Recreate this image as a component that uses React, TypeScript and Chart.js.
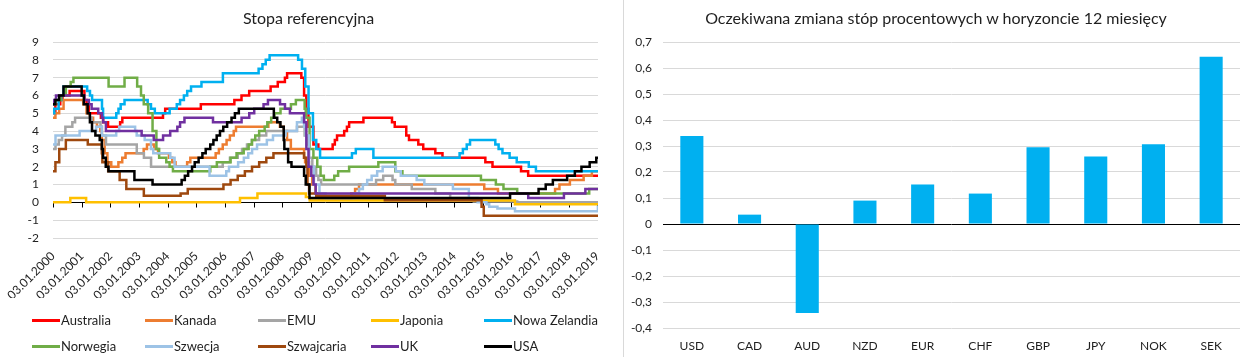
import React, { useEffect, useRef } from 'react';
import { Chart, registerables } from 'chart.js';

Chart.register(...registerables);

type Pt = [string, number];

// ---------------- Left chart data (policy rate change points) ----------------
const australia: Pt[] = [
  ['2000-01-03', 5.0], ['2000-02-02', 5.5], ['2000-04-05', 5.75], ['2000-05-03', 6.0], ['2000-08-02', 6.25],
  ['2001-02-07', 5.75], ['2001-03-07', 5.5], ['2001-04-04', 5.0], ['2001-09-05', 4.75], ['2001-10-03', 4.5], ['2001-12-05', 4.25],
  ['2002-05-08', 4.5], ['2002-06-05', 4.75], ['2003-11-05', 5.0], ['2003-12-03', 5.25], ['2005-03-02', 5.5],
  ['2006-05-03', 5.75], ['2006-08-02', 6.0], ['2006-11-08', 6.25], ['2007-08-08', 6.5], ['2007-11-07', 6.75],
  ['2008-02-06', 7.0], ['2008-03-05', 7.25], ['2008-09-03', 7.0], ['2008-10-08', 6.0], ['2008-11-05', 5.25], ['2008-12-03', 4.25],
  ['2009-02-04', 3.25], ['2009-04-08', 3.0], ['2009-10-07', 3.25], ['2009-11-04', 3.5], ['2009-12-02', 3.75],
  ['2010-03-03', 4.0], ['2010-04-07', 4.25], ['2010-05-05', 4.5], ['2010-11-03', 4.75],
  ['2011-11-02', 4.5], ['2011-12-07', 4.25], ['2012-05-02', 3.75], ['2012-06-06', 3.5], ['2012-10-03', 3.25], ['2012-12-05', 3.0],
  ['2013-05-08', 2.75], ['2013-08-07', 2.5], ['2015-02-04', 2.25], ['2015-05-06', 2.0], ['2016-05-04', 1.75], ['2016-08-03', 1.5],
];

const kanada: Pt[] = [
  ['2000-01-03', 4.75], ['2000-02-03', 5.0], ['2000-03-22', 5.25], ['2000-05-17', 5.75],
  ['2001-01-23', 5.5], ['2001-03-06', 5.0], ['2001-04-17', 4.75], ['2001-05-29', 4.5], ['2001-07-17', 4.25], ['2001-08-28', 4.0],
  ['2001-09-17', 3.5], ['2001-10-23', 2.75], ['2001-11-27', 2.25], ['2002-01-15', 2.0],
  ['2002-04-16', 2.25], ['2002-06-04', 2.5], ['2002-07-16', 2.75], ['2003-03-04', 3.0], ['2003-04-15', 3.25], ['2003-07-15', 3.0], ['2003-09-03', 2.75],
  ['2004-01-20', 2.5], ['2004-03-02', 2.25], ['2004-04-13', 2.0], ['2004-09-08', 2.25], ['2004-10-19', 2.5],
  ['2005-09-07', 2.75], ['2005-10-18', 3.0], ['2005-12-06', 3.25], ['2006-01-24', 3.5], ['2006-03-07', 3.75], ['2006-04-25', 4.0], ['2006-05-24', 4.25],
  ['2007-07-10', 4.5], ['2007-12-04', 4.25], ['2008-01-22', 4.0], ['2008-03-04', 3.5], ['2008-04-22', 3.0], ['2008-10-08', 2.5], ['2008-10-21', 2.25], ['2008-12-09', 1.5],
  ['2009-01-20', 1.0], ['2009-03-03', 0.5], ['2009-04-21', 0.25], ['2010-06-01', 0.5], ['2010-07-20', 0.75], ['2010-09-08', 1.0],
  ['2015-01-21', 0.75], ['2015-07-15', 0.5], ['2017-07-12', 0.75], ['2017-09-06', 1.0], ['2018-01-17', 1.25], ['2018-07-11', 1.5], ['2018-10-24', 1.75],
];

const emu: Pt[] = [
  ['2000-01-03', 3.0], ['2000-02-04', 3.25], ['2000-03-17', 3.5], ['2000-04-28', 3.75], ['2000-06-09', 4.25], ['2000-09-06', 4.5], ['2000-10-11', 4.75],
  ['2001-05-11', 4.5], ['2001-08-31', 4.25], ['2001-09-18', 3.75], ['2001-11-09', 3.25], ['2002-12-06', 2.75], ['2003-03-07', 2.5], ['2003-06-06', 2.0],
  ['2005-12-06', 2.25], ['2006-03-08', 2.5], ['2006-06-15', 2.75], ['2006-08-09', 3.0], ['2006-10-11', 3.25], ['2006-12-13', 3.5], ['2007-03-14', 3.75], ['2007-06-13', 4.0],
  ['2008-07-09', 4.25], ['2008-10-15', 3.75], ['2008-11-12', 3.25], ['2008-12-10', 2.5], ['2009-01-21', 2.0], ['2009-03-11', 1.5], ['2009-04-08', 1.25], ['2009-05-13', 1.0],
  ['2011-04-13', 1.25], ['2011-07-13', 1.5], ['2011-11-09', 1.25], ['2011-12-14', 1.0], ['2012-07-11', 0.75], ['2013-05-08', 0.5], ['2013-11-13', 0.25],
  ['2014-06-11', 0.15], ['2014-09-10', 0.05], ['2016-03-16', 0.0],
];

const japonia: Pt[] = [
  ['2000-01-03', 0.0], ['2000-08-11', 0.25], ['2001-03-01', 0.0], ['2006-07-14', 0.25], ['2007-02-21', 0.5],
  ['2008-10-31', 0.3], ['2008-12-19', 0.1], ['2016-02-16', -0.1],
];

const nowaZelandia: Pt[] = [
  ['2000-01-03', 5.0], ['2000-01-19', 5.25], ['2000-03-15', 5.75], ['2000-04-19', 6.0], ['2000-05-17', 6.5],
  ['2001-03-14', 6.25], ['2001-04-19', 6.0], ['2001-05-16', 5.75], ['2001-09-19', 5.25], ['2001-10-03', 4.75],
  ['2002-03-20', 5.0], ['2002-04-17', 5.25], ['2002-05-15', 5.5], ['2002-07-03', 5.75],
  ['2003-04-24', 5.5], ['2003-06-05', 5.25], ['2003-07-24', 5.0],
  ['2004-01-29', 5.25], ['2004-04-29', 5.5], ['2004-06-10', 5.75], ['2004-07-29', 6.0], ['2004-09-09', 6.25], ['2004-10-28', 6.5],
  ['2005-03-10', 6.75], ['2005-12-08', 7.25], ['2007-03-08', 7.5], ['2007-04-26', 7.75], ['2007-06-07', 8.0], ['2007-07-26', 8.25],
  ['2008-07-24', 8.0], ['2008-09-11', 7.5], ['2008-10-23', 6.5], ['2008-12-04', 5.0], ['2009-01-29', 3.5], ['2009-03-12', 3.0], ['2009-04-30', 2.5],
  ['2010-06-10', 2.75], ['2010-07-29', 3.0], ['2011-03-10', 2.5], ['2014-03-13', 2.75], ['2014-04-24', 3.0], ['2014-06-12', 3.25], ['2014-07-24', 3.5],
  ['2015-06-11', 3.25], ['2015-07-23', 3.0], ['2015-09-10', 2.75], ['2015-12-10', 2.5], ['2016-03-10', 2.25], ['2016-08-11', 2.0], ['2016-11-10', 1.75],
];

const norwegia: Pt[] = [
  ['2000-01-03', 5.5], ['2000-02-02', 5.75], ['2000-04-13', 6.0], ['2000-06-15', 6.5], ['2000-08-16', 6.75], ['2000-09-20', 7.0],
  ['2001-12-12', 6.5], ['2002-07-03', 7.0], ['2002-12-11', 6.5], ['2003-01-29', 6.0], ['2003-03-05', 5.5], ['2003-04-30', 5.0],
  ['2003-06-25', 4.0], ['2003-08-13', 3.0], ['2003-09-17', 2.5], ['2003-12-17', 2.25], ['2004-01-28', 2.0], ['2004-03-11', 1.75],
  ['2005-06-30', 2.0], ['2005-09-22', 2.25], ['2006-03-16', 2.5], ['2006-05-31', 2.75], ['2006-08-30', 3.0], ['2006-11-01', 3.25], ['2006-12-13', 3.5],
  ['2007-01-24', 3.75], ['2007-03-15', 4.0], ['2007-05-24', 4.25], ['2007-06-27', 4.5], ['2007-08-15', 4.75], ['2007-09-26', 5.0], ['2007-12-12', 5.25],
  ['2008-04-23', 5.5], ['2008-06-25', 5.75], ['2008-10-15', 5.25], ['2008-10-29', 4.75], ['2008-12-17', 3.0],
  ['2009-02-04', 2.5], ['2009-03-25', 2.0], ['2009-05-06', 1.5], ['2009-06-17', 1.25], ['2009-10-28', 1.5], ['2009-12-16', 1.75],
  ['2010-05-05', 2.0], ['2011-05-12', 2.25], ['2011-12-14', 1.75], ['2012-03-14', 1.5], ['2014-12-10', 1.25],
  ['2015-06-18', 1.0], ['2015-09-23', 0.75], ['2016-03-16', 0.5], ['2018-09-20', 0.75],
];

const szwecja: Pt[] = [
  ['2000-01-03', 3.25], ['2000-02-04', 3.75], ['2000-12-08', 4.0], ['2001-07-06', 4.25], ['2001-09-17', 3.75],
  ['2002-03-19', 4.0], ['2002-04-26', 4.25], ['2002-11-15', 4.0], ['2002-12-05', 3.75], ['2003-03-17', 3.5], ['2003-06-05', 3.0], ['2003-07-04', 2.75],
  ['2004-02-06', 2.5], ['2004-04-01', 2.0], ['2005-06-21', 1.5], ['2006-01-20', 1.75], ['2006-02-24', 2.0], ['2006-06-20', 2.25],
  ['2006-09-01', 2.5], ['2006-10-27', 2.75], ['2006-12-15', 3.0], ['2007-02-16', 3.25], ['2007-06-21', 3.5], ['2007-09-07', 3.75],
  ['2008-02-15', 4.0], ['2008-07-09', 4.5], ['2008-09-10', 4.75], ['2008-10-08', 4.25], ['2008-10-29', 3.75], ['2008-12-10', 2.0],
  ['2009-02-11', 1.0], ['2009-04-22', 0.5], ['2009-07-08', 0.25], ['2010-07-07', 0.5], ['2010-09-08', 0.75], ['2010-10-27', 1.0],
  ['2010-12-21', 1.25], ['2011-02-16', 1.5], ['2011-04-27', 1.75], ['2011-07-06', 2.0], ['2011-12-21', 1.75], ['2012-02-22', 1.5],
  ['2012-09-12', 1.25], ['2012-12-19', 1.0], ['2013-12-18', 0.75], ['2014-07-09', 0.25], ['2014-10-29', 0.0],
  ['2015-02-18', -0.1], ['2015-03-25', -0.25], ['2015-07-08', -0.35], ['2016-02-17', -0.5], ['2019-01-09', -0.25],
];

const szwajcaria: Pt[] = [
  ['2000-01-03', 1.75], ['2000-02-03', 2.25], ['2000-03-23', 3.0], ['2000-06-15', 3.5], ['2001-03-22', 3.25],
  ['2001-09-17', 2.75], ['2001-09-24', 2.25], ['2001-12-07', 1.75], ['2002-05-02', 1.25], ['2002-07-26', 0.75], ['2003-03-06', 0.375],
  ['2004-06-17', 0.5], ['2004-09-16', 0.75], ['2005-12-15', 1.0], ['2006-03-16', 1.25], ['2006-06-15', 1.5], ['2006-09-14', 1.75],
  ['2006-12-14', 2.0], ['2007-03-15', 2.25], ['2007-06-14', 2.5], ['2007-09-13', 2.75], ['2008-10-08', 2.5], ['2008-11-06', 2.0],
  ['2008-11-20', 1.0], ['2008-12-11', 0.5], ['2009-03-12', 0.375], ['2011-08-03', 0.125], ['2014-12-18', -0.25], ['2015-01-15', -0.75],
];

const uk: Pt[] = [
  ['2000-01-03', 5.5], ['2000-01-13', 5.75], ['2000-02-10', 6.0], ['2001-02-08', 5.75], ['2001-04-05', 5.5], ['2001-05-10', 5.25],
  ['2001-08-02', 5.0], ['2001-09-18', 4.75], ['2001-10-04', 4.5], ['2001-11-08', 4.0], ['2003-02-06', 3.75], ['2003-07-10', 3.5],
  ['2003-11-06', 3.75], ['2004-02-05', 4.0], ['2004-05-06', 4.25], ['2004-06-10', 4.5], ['2004-08-05', 4.75], ['2005-08-04', 4.5],
  ['2006-08-03', 4.75], ['2006-11-09', 5.0], ['2007-01-11', 5.25], ['2007-05-10', 5.5], ['2007-07-05', 5.75], ['2007-12-06', 5.5],
  ['2008-02-07', 5.25], ['2008-04-10', 5.0], ['2008-10-08', 4.5], ['2008-11-06', 3.0], ['2008-12-04', 2.0], ['2009-01-08', 1.5],
  ['2009-02-05', 1.0], ['2009-03-05', 0.5], ['2016-08-04', 0.25], ['2017-11-02', 0.5], ['2018-08-02', 0.75],
];

const usa: Pt[] = [
  ['2000-01-03', 5.5], ['2000-02-02', 5.75], ['2000-03-21', 6.0], ['2000-05-16', 6.5], ['2001-01-03', 6.0], ['2001-01-31', 5.5],
  ['2001-03-20', 5.0], ['2001-04-18', 4.5], ['2001-05-15', 4.0], ['2001-06-27', 3.75], ['2001-08-21', 3.5], ['2001-09-17', 3.0],
  ['2001-10-02', 2.5], ['2001-11-06', 2.0], ['2001-12-11', 1.75], ['2002-11-06', 1.25], ['2003-06-25', 1.0], ['2004-06-30', 1.25],
  ['2004-08-10', 1.5], ['2004-09-21', 1.75], ['2004-11-10', 2.0], ['2004-12-14', 2.25], ['2005-02-02', 2.5], ['2005-03-22', 2.75],
  ['2005-05-03', 3.0], ['2005-06-30', 3.25], ['2005-08-09', 3.5], ['2005-09-20', 3.75], ['2005-11-01', 4.0], ['2005-12-13', 4.25],
  ['2006-01-31', 4.5], ['2006-03-28', 4.75], ['2006-05-10', 5.0], ['2006-06-29', 5.25], ['2007-09-18', 4.75], ['2007-10-31', 4.5],
  ['2007-12-11', 4.25], ['2008-01-22', 3.5], ['2008-01-30', 3.0], ['2008-03-18', 2.25], ['2008-04-30', 2.0], ['2008-10-08', 1.5],
  ['2008-10-29', 1.0], ['2008-12-16', 0.25], ['2015-12-16', 0.5], ['2016-12-14', 0.75], ['2017-03-15', 1.0], ['2017-06-14', 1.25],
  ['2017-12-13', 1.5], ['2018-03-21', 1.75], ['2018-06-13', 2.0], ['2018-09-26', 2.25], ['2018-12-19', 2.5],
];

const seriesNames = ['Australia', 'Kanada', 'EMU', 'Japonia', 'Nowa Zelandia', 'Norwegia', 'Szwecja', 'Szwajcaria', 'UK', 'USA'];
const seriesColors = ['#FF0000', '#ED7D31', '#A5A5A5', '#FFC000', '#00B0F0', '#70AD47', '#9DC3E6', '#9E480E', '#7030A0', '#000000'];
const seriesData = [australia, kanada, emu, japonia, nowaZelandia, norwegia, szwecja, szwajcaria, uk, usa];

const START_DATE = '2000-01-03';
const END_DATE = '2019-01-10';
const xTickLabels = [
  '03.01.2000', '03.01.2001', '03.01.2002', '03.01.2003', '03.01.2004', '03.01.2005', '03.01.2006', '03.01.2007',
  '03.01.2008', '03.01.2009', '03.01.2010', '03.01.2011', '03.01.2012', '03.01.2013', '03.01.2014', '03.01.2015',
  '03.01.2016', '03.01.2017', '03.01.2018', '03.01.2019',
];
const leftYMin = -2;
const leftYMax = 9;

// ---------------- Right chart data ----------------
const barCategories = ['USD', 'CAD', 'AUD', 'NZD', 'EUR', 'CHF', 'GBP', 'JPY', 'NOK', 'SEK'];
const barValues = [0.338, 0.036, -0.342, 0.09, 0.152, 0.117, 0.295, 0.26, 0.307, 0.643];
const rightYMin = -0.4;
const rightYMax = 0.7;

const leftTitle = 'Stopa referencyjna';
const rightTitle = 'Oczekiwana zmiana stóp procentowych w horyzoncie 12 miesięcy';

// ---------------- helpers ----------------
function toYear(iso: string): number {
  const [y, m, d] = iso.split('-').map(Number);
  const start = Date.UTC(y, 0, 1);
  const end = Date.UTC(y + 1, 0, 1);
  return y + (Date.UTC(y, m - 1, d) - start) / (end - start);
}
function labelToYear(lbl: string): number {
  const [d, m, y] = lbl.split('.');
  return toYear(`${y}-${m}-${d}`);
}

const FONT = 'Lato, "Liberation Sans", Arial, sans-serif';
const TEXT = '#1f1f1f';
const GRID = '#D9D9D9';

const zeroAxisTicks = {
  id: 'zeroAxisTicks',
  beforeDatasetsDraw(chart: any) {
    const { ctx, scales } = chart;
    const x = scales.x;
    const y = scales.y;
    const y0 = Math.round(y.getPixelForValue(0)) + 0.5;
    ctx.save();
    ctx.strokeStyle = '#000';
    ctx.lineWidth = 1;
    ctx.beginPath();
    x.ticks.forEach((t: any) => {
      const px = Math.round(x.getPixelForValue(t.value)) + 0.5;
      ctx.moveTo(px, y0);
      ctx.lineTo(px, y0 + 5);
    });
    ctx.stroke();
    ctx.restore();
  },
};

function LeftChart() {
  const ref = useRef<HTMLCanvasElement>(null);
  useEffect(() => {
    const endX = toYear(END_DATE);
    const datasets = seriesData.map((pts, i) => {
      const data = pts.map(([d, v]) => ({ x: toYear(d), y: v }));
      data.push({ x: endX, y: pts[pts.length - 1][1] });
      return {
        label: seriesNames[i],
        data,
        borderColor: seriesColors[i],
        backgroundColor: seriesColors[i],
        borderWidth: 2.5,
        pointRadius: 0,
        fill: false,
        stepped: 'before' as const,
        order: seriesNames.length - i,
      };
    });
    const chart = new Chart(ref.current!, {
      type: 'line',
      data: { datasets },
      plugins: [zeroAxisTicks],
      options: {
        animation: false,
        responsive: false,
        events: [],
        layout: { padding: { top: 42, right: 22, bottom: 59, left: 0 } },
        plugins: { legend: { display: false }, title: { display: false }, tooltip: { enabled: false } },
        scales: {
          x: {
            type: 'linear',
            min: toYear(START_DATE),
            max: endX,
            grid: { display: false },
            border: { display: false },
            afterBuildTicks: (scale: any) => {
              scale.ticks = xTickLabels.map((l) => ({ value: labelToYear(l) }));
            },
            afterFit: (scale: any) => { scale.height = 60; },
            ticks: {
              autoSkip: false,
              minRotation: 45,
              maxRotation: 45,
              padding: 3,
              color: TEXT,
              font: { family: FONT, size: 12 },
              callback: (_v: any, idx: number) => xTickLabels[idx],
            },
          },
          y: {
            min: leftYMin,
            max: leftYMax,
            border: { display: false },
            grid: {
              drawTicks: false,
              color: (c: any) => (c.tick && c.tick.value === 0 ? '#000000' : GRID),
              lineWidth: 1,
            },
            afterFit: (scale: any) => { scale.width = 53; },
            ticks: {
              stepSize: 1,
              padding: 14,
              color: TEXT,
              font: { family: FONT, size: 12 },
            },
          },
        },
      },
    });
    return () => chart.destroy();
  }, []);
  return <canvas ref={ref} width={620} height={357} style={{ position: 'absolute', left: 0, top: 0, display: 'block' }} />;
}

function RightChart() {
  const ref = useRef<HTMLCanvasElement>(null);
  useEffect(() => {
    const chart = new Chart(ref.current!, {
      type: 'bar',
      data: {
        labels: barCategories,
        datasets: [{ data: barValues, backgroundColor: '#00B0F0', borderWidth: 0, categoryPercentage: 1, barPercentage: 0.4 }],
      },
      options: {
        animation: false,
        responsive: false,
        events: [],
        layout: { padding: { top: 42, right: 3, bottom: 0, left: 0 } },
        plugins: { legend: { display: false }, title: { display: false }, tooltip: { enabled: false } },
        scales: {
          x: {
            grid: { display: false },
            border: { display: false },
            afterFit: (scale: any) => { scale.height = 29; },
            ticks: { padding: 3, color: TEXT, font: { family: FONT, size: 12 } },
          },
          y: {
            min: rightYMin,
            max: rightYMax,
            border: { display: false },
            grid: {
              drawTicks: false,
              color: (c: any) => (c.tick && Math.abs(c.tick.value) < 1e-9 ? '#000000' : GRID),
              lineWidth: 1,
            },
            afterFit: (scale: any) => { scale.width = 39; },
            ticks: {
              stepSize: 0.1,
              padding: 11,
              color: TEXT,
              font: { family: FONT, size: 12 },
              callback: (v: any) => {
                const r = Math.round(Number(v) * 10) / 10;
                return r === 0 ? '0' : r.toFixed(1).replace('.', ',');
              },
            },
          },
        },
      },
    });
    return () => chart.destroy();
  }, []);
  return <canvas ref={ref} width={619} height={357} style={{ position: 'absolute', left: 624, top: 0, display: 'block' }} />;
}

export default function App() {
  const titleStyle: React.CSSProperties = {
    position: 'absolute', top: 8, height: 20, lineHeight: '20px', textAlign: 'center',
    fontFamily: FONT, fontSize: 16, color: TEXT, whiteSpace: 'nowrap',
  };
  return (
    <div style={{ position: 'fixed', left: 0, top: 0, width: 1243, height: 357, background: '#fff', overflow: 'hidden' }}>
      <LeftChart />
      <RightChart />
      <div style={{ ...titleStyle, left: 0, width: 617 }}>{leftTitle}</div>
      <div style={{ ...titleStyle, left: 624, width: 624 }}>{rightTitle}</div>
      <div style={{ position: 'absolute', left: 623, top: 0, width: 1, height: 357, background: GRID }} />
      {seriesNames.map((name, i) => {
        const col = i % 5;
        const row = Math.floor(i / 5);
        return (
          <div key={name} style={{
            position: 'absolute', left: 32 + col * 113, top: (row ? 346 : 320) - 9, height: 18,
            display: 'flex', alignItems: 'center', whiteSpace: 'nowrap',
          }}>
            <span style={{ display: 'inline-block', width: 28, height: 3, background: seriesColors[i], marginRight: 1 }} />
            <span style={{ fontFamily: FONT, fontSize: 13, color: TEXT }}>{name}</span>
          </div>
        );
      })}
    </div>
  );
}
